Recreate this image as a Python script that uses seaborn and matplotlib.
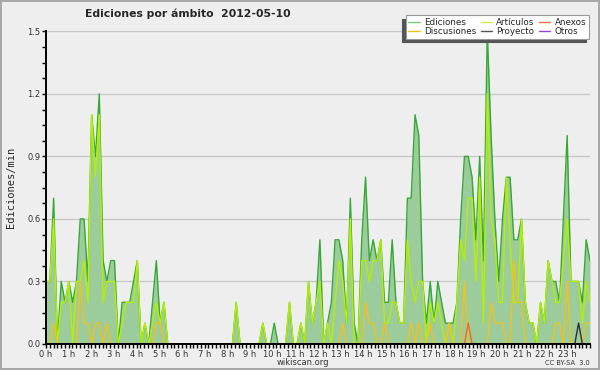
import numpy as np
import seaborn as sns
import matplotlib
matplotlib.use("Agg")
import matplotlib.pyplot as plt
from matplotlib.lines import Line2D
from matplotlib.ticker import MultipleLocator, FixedLocator

sns.set_style('white')
plt.rcParams['font.family'] = ['DejaVu Sans']

# 144 puntos de 10 minutos (ediciones/min)
ediciones = [
    0.3, 0.3, 0.7, 0.0, 0.3, 0.2, 0.3, 0.2, 0.3, 0.6, 0.6, 0.3,
    1.1, 0.9, 1.2, 0.4, 0.3, 0.4, 0.4, 0.0, 0.2, 0.2, 0.2, 0.3,
    0.4, 0.0, 0.1, 0.0, 0.2, 0.4, 0.1, 0.2, 0.0, 0.0, 0.0, 0.0,
    0.0, 0.0, 0.0, 0.0, 0.0, 0.0, 0.0, 0.0, 0.0, 0.0, 0.0, 0.0,
    0.0, 0.0, 0.2, 0.0, 0.0, 0.0, 0.0, 0.0, 0.0, 0.1, 0.0, 0.0,
    0.1, 0.0, 0.0, 0.0, 0.2, 0.0, 0.0, 0.1, 0.0, 0.3, 0.1, 0.2,
    0.5, 0.0, 0.1, 0.2, 0.5, 0.5, 0.4, 0.1, 0.7, 0.1, 0.0, 0.5,
    0.8, 0.4, 0.5, 0.4, 0.5, 0.2, 0.2, 0.5, 0.2, 0.1, 0.1, 0.7,
    0.7, 1.1, 1.0, 0.3, 0.1, 0.3, 0.1, 0.3, 0.2, 0.1, 0.1, 0.1,
    0.2, 0.6, 0.9, 0.9, 0.8, 0.5, 0.9, 0.4, 1.5, 1.0, 0.6, 0.3,
    0.6, 0.8, 0.8, 0.5, 0.5, 0.6, 0.2, 0.1, 0.1, 0.0, 0.2, 0.1,
    0.4, 0.3, 0.3, 0.2, 0.6, 1.0, 0.3, 0.3, 0.3, 0.2, 0.5, 0.4,
]
articulos = [
    0.3, 0.3, 0.6, 0.0, 0.2, 0.2, 0.3, 0.0, 0.3, 0.3, 0.4, 0.2,
    1.1, 0.8, 1.1, 0.2, 0.3, 0.3, 0.3, 0.0, 0.1, 0.2, 0.2, 0.2,
    0.4, 0.0, 0.1, 0.0, 0.1, 0.2, 0.1, 0.2, 0.0, 0.0, 0.0, 0.0,
    0.0, 0.0, 0.0, 0.0, 0.0, 0.0, 0.0, 0.0, 0.0, 0.0, 0.0, 0.0,
    0.0, 0.0, 0.2, 0.0, 0.0, 0.0, 0.0, 0.0, 0.0, 0.1, 0.0, 0.0,
    0.0, 0.0, 0.0, 0.0, 0.2, 0.0, 0.0, 0.1, 0.0, 0.3, 0.1, 0.2,
    0.3, 0.0, 0.1, 0.0, 0.2, 0.4, 0.3, 0.1, 0.6, 0.0, 0.0, 0.4,
    0.4, 0.3, 0.4, 0.4, 0.5, 0.1, 0.1, 0.2, 0.2, 0.1, 0.1, 0.5,
    0.3, 0.2, 0.3, 0.3, 0.0, 0.2, 0.1, 0.2, 0.1, 0.0, 0.1, 0.0,
    0.2, 0.5, 0.4, 0.7, 0.7, 0.3, 0.8, 0.1, 1.2, 0.6, 0.5, 0.2,
    0.2, 0.8, 0.5, 0.2, 0.2, 0.6, 0.2, 0.1, 0.1, 0.0, 0.2, 0.1,
    0.4, 0.3, 0.2, 0.2, 0.4, 0.6, 0.3, 0.3, 0.3, 0.1, 0.3, 0.2,
]
discusiones = [
    0.0, 0.0, 0.1, 0.0, 0.0, 0.0, 0.0, 0.0, 0.0, 0.3, 0.1, 0.1,
    0.0, 0.1, 0.1, 0.0, 0.1, 0.0, 0.0, 0.0, 0.0, 0.0, 0.0, 0.0,
    0.0, 0.0, 0.0, 0.0, 0.0, 0.1, 0.1, 0.0, 0.0, 0.0, 0.0, 0.0,
    0.0, 0.0, 0.0, 0.0, 0.0, 0.0, 0.0, 0.0, 0.0, 0.0, 0.0, 0.0,
    0.0, 0.0, 0.0, 0.0, 0.0, 0.0, 0.0, 0.0, 0.0, 0.0, 0.0, 0.0,
    0.0, 0.0, 0.0, 0.0, 0.0, 0.0, 0.0, 0.0, 0.0, 0.0, 0.0, 0.0,
    0.0, 0.0, 0.0, 0.0, 0.0, 0.0, 0.1, 0.0, 0.0, 0.0, 0.0, 0.0,
    0.2, 0.1, 0.1, 0.0, 0.0, 0.1, 0.0, 0.0, 0.0, 0.0, 0.0, 0.0,
    0.1, 0.0, 0.1, 0.0, 0.0, 0.1, 0.0, 0.0, 0.0, 0.0, 0.1, 0.0,
    0.0, 0.0, 0.3, 0.0, 0.0, 0.0, 0.0, 0.0, 0.0, 0.2, 0.1, 0.1,
    0.1, 0.0, 0.0, 0.4, 0.2, 0.2, 0.0, 0.0, 0.0, 0.0, 0.0, 0.0,
    0.0, 0.0, 0.1, 0.1, 0.0, 0.3, 0.0, 0.0, 0.0, 0.0, 0.1, 0.1,
]
anexos = [0.0] * 144
anexos[111] = 0.1
proyecto = [0.0] * 144
proyecto[140] = 0.1
otros = [0.0] * 144

horas = np.linspace(0, 24, len(ediciones))
hour_labels = ['%d h' % h for h in range(24)]

fig = plt.figure(figsize=(6, 3.7), dpi=100, facecolor='#eeeeee')
fig.patch.set_edgecolor('#a8a8a8')
fig.patch.set_linewidth(1.5)
ax = fig.add_axes([0.0767, 0.0703, 0.9066, 0.845])
ax.set_facecolor('#eeeeee')

# area total
ax.fill_between(horas, ediciones, color='#9ccb9c', lw=0, zorder=1)
sns.lineplot(x=horas, y=ediciones, ax=ax, color='#36a836', lw=1.0, zorder=3)
sns.lineplot(x=horas, y=articulos, ax=ax, color='#b4f000', lw=1.0, zorder=4)
sns.lineplot(x=horas, y=discusiones, ax=ax, color='#f2c21a', lw=1.0, zorder=5)
sns.lineplot(x=horas, y=anexos, ax=ax, color='#f06a20', lw=1.0, zorder=6)
sns.lineplot(x=horas, y=proyecto, ax=ax, color='#303030', lw=1.0, zorder=7)
sns.lineplot(x=horas, y=otros, ax=ax, color='#9a40e0', lw=1.0, zorder=2)

ax.set_xlim(0, 24)
ax.set_ylim(0, 1.5)
ax.yaxis.set_major_locator(MultipleLocator(0.3))
ax.yaxis.set_minor_locator(MultipleLocator(0.075))
ax.set_yticklabels(['%.1f' % v for v in ax.get_yticks()])
ax.xaxis.set_major_locator(FixedLocator(np.arange(24) + 0.0))
ax.xaxis.set_minor_locator(MultipleLocator(1 / 6))
ax.set_xticklabels(hour_labels)
ax.tick_params(axis='both', which='both', direction='out', length=3, width=1,
               color='black', labelsize=6, labelcolor='#333333', pad=1)
ax.tick_params(axis='x', which='both', bottom=True)
ax.tick_params(axis='y', which='both', left=True)
ax.grid(axis='y', which='major', color='#c8c8c8', lw=1)
ax.set_axisbelow(True)
for s in ['top', 'right']:
    ax.spines[s].set_visible(False)
for s in ['left', 'bottom']:
    ax.spines[s].set_color('black')
    ax.spines[s].set_linewidth(1.4)
    ax.spines[s].set_zorder(10)
ax.set_xlabel('')
ax.set_ylabel('Ediciones/min', family='DejaVu Sans Mono', fontsize=7.5, labelpad=8)

fig.text(0.313, 0.962, 'Ediciones por ámbito  2012-05-10', ha='center', va='center',
         fontsize=7.8, fontweight='bold')
fig.text(0.505, 0.02, 'wikiscan.org', ha='center', va='center', fontsize=6,
         color='#333333')
fig.text(0.983, 0.02, 'CC BY-SA  3.0', ha='right', va='center', fontsize=4.8,
         color='#333333')

handles = [
    Line2D([], [], color='#77cc77', lw=1),
    Line2D([], [], color='#f2c21a', lw=1),
    Line2D([], [], color='#ccf040', lw=1),
    Line2D([], [], color='#555555', lw=1),
    Line2D([], [], color='#f07040', lw=1),
    Line2D([], [], color='#9a40e0', lw=1),
]
labels = ['Ediciones', 'Discusiones', 'Artículos', 'Proyecto', 'Anexos', 'Otros']
leg = fig.legend(handles, labels, ncol=3, loc='upper right',
                 bbox_to_anchor=(0.989, 0.97), fontsize=6.3, frameon=True,
                 fancybox=False, handlelength=1.3, handletextpad=0.5,
                 columnspacing=0.5, labelspacing=0.0, borderpad=0.3,
                 shadow={'ox': -2.2, 'oy': -2.2, 'facecolor': '#555555',
                         'edgecolor': '#555555', 'alpha': 1.0})
leg.get_frame().set_edgecolor('#999999')
leg.get_frame().set_facecolor('white')
leg.get_frame().set_alpha(1)
leg.get_frame().set_linewidth(0.8)

fig.savefig('out.png', dpi=100, facecolor=fig.get_facecolor(),
            edgecolor=fig.get_edgecolor())
